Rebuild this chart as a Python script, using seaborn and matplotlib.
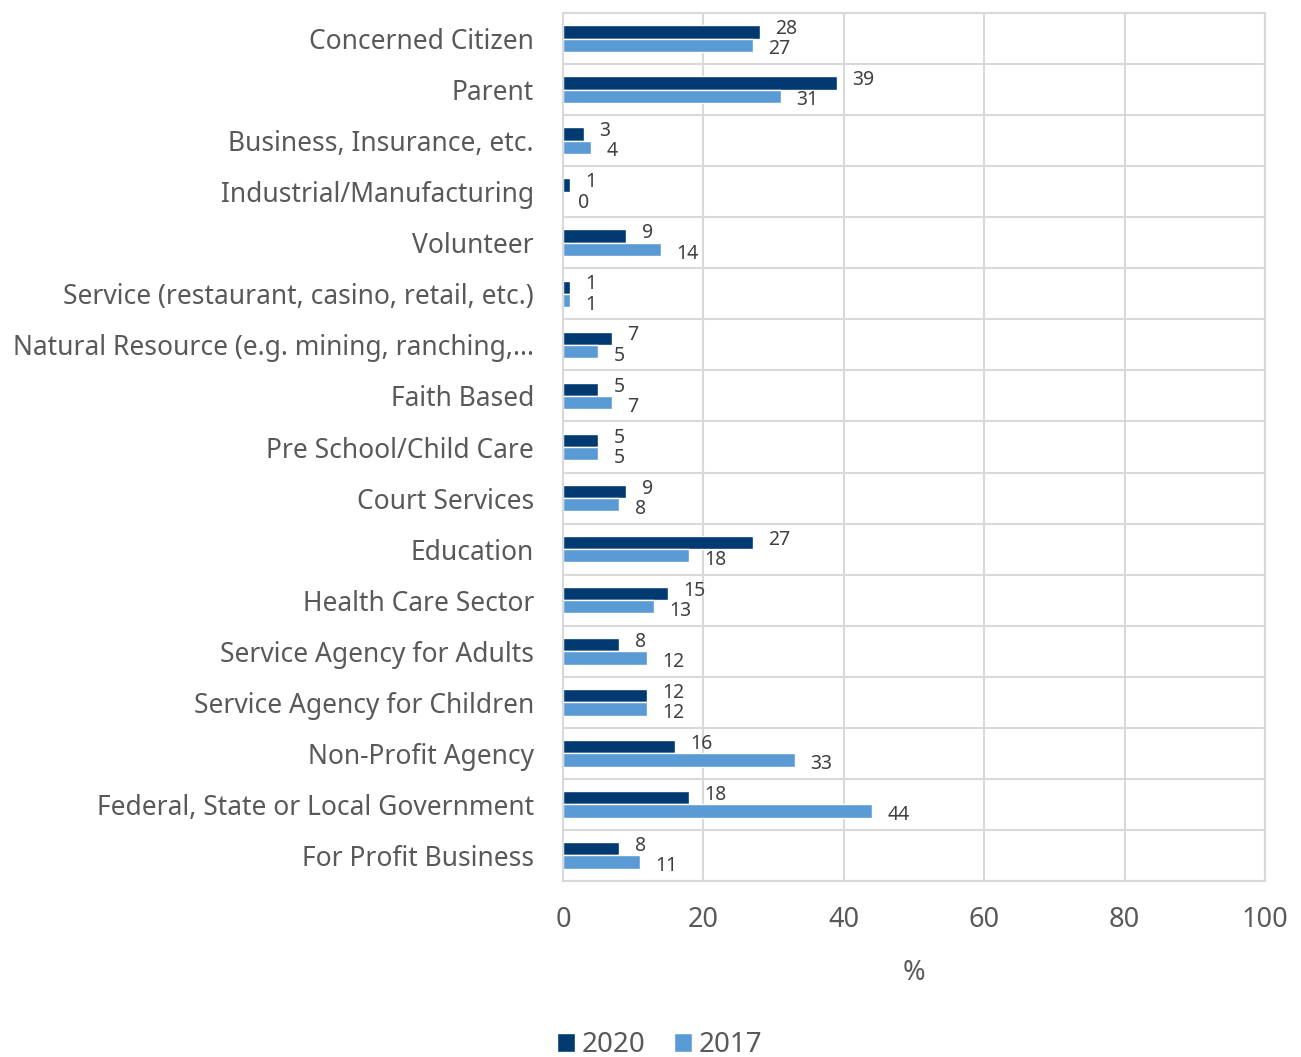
import pandas as pd
import matplotlib
matplotlib.use('Agg')
import matplotlib.pyplot as plt
import seaborn as sns

categories = [
    'Concerned Citizen', 'Parent', 'Business, Insurance, etc.',
    'Industrial/Manufacturing', 'Volunteer',
    'Service (restaurant, casino, retail, etc.)',
    'Natural Resource (e.g. mining, ranching,...',
    'Faith Based', 'Pre School/Child Care', 'Court Services', 'Education',
    'Health Care Sector', 'Service Agency for Adults',
    'Service Agency for Children', 'Non-Profit Agency',
    'Federal, State or Local Government', 'For Profit Business',
]
values_2020 = [28, 39, 3, 1, 9, 1, 7, 5, 5, 9, 27, 15, 8, 12, 16, 18, 8]
values_2017 = [27, 31, 4, 0, 14, 1, 5, 7, 5, 8, 18, 13, 12, 12, 33, 44, 11]
years = ['2020', '2017']
x_ticks = [0, 20, 40, 60, 80, 100]

df = pd.DataFrame({
    'Category': categories * 2,
    'Year': [years[0]] * len(categories) + [years[1]] * len(categories),
    'Value': values_2020 + values_2017,
})

sns.set_style('white')
plt.rcParams['font.family'] = ['Noto Sans', 'DejaVu Sans']
text_col = '#595959'
grid_col = '#d9d9d9'
palette = {'2020': '#003a70', '2017': '#5b9bd5'}

fig = plt.figure(figsize=(13.01, 10.57), dpi=100)
ax = fig.add_axes([0.4328, 0.1665, 0.5395, 0.8212])

sns.barplot(data=df, y='Category', x='Value', hue='Year', hue_order=years,
            order=categories, palette=palette, width=0.52, orient='h',
            saturation=1, ax=ax, legend=True)

ax.set_xlim(0, 100)
ax.set_ylim(len(categories) - 0.5, -0.5)
ax.set_xticks(x_ticks)
ax.set_xticklabels([str(t) for t in x_ticks])
ax.set_yticks(range(len(categories)))
ax.set_yticks([i + 0.5 for i in range(-1, len(categories))], minor=True)
ax.grid(True, axis='x', which='major', color=grid_col, linewidth=1.5)
ax.grid(True, axis='y', which='minor', color=grid_col, linewidth=1.5)
ax.grid(False, axis='y', which='major')
ax.set_axisbelow(True)
for s in ax.spines.values():
    s.set_visible(True)
    s.set_color(grid_col)
    s.set_linewidth(1.5)

ax.tick_params(axis='y', labelsize=19)
ax.tick_params(axis='x', labelsize=19.5, pad=18)
ax.tick_params(axis='both', which='both', length=0, colors=text_col)
ax.tick_params(axis='y', pad=21)
ax.set_xlabel('%', fontsize=19.5, color=text_col, labelpad=18)
ax.set_ylabel('')

# data labels next to each bar (2020 nudged up, 2017 nudged down)
for container, vals, dy in zip(ax.containers, [values_2020, values_2017], [2, -3]):
    for bar, v in zip(container, vals):
        yc = bar.get_y() + bar.get_height() / 2
        ax.annotate(str(v), (bar.get_width(), yc), xytext=(11, dy),
                    textcoords='offset points', ha='left', va='center',
                    fontsize=14, color='#404040')

handles, labels = ax.get_legend_handles_labels()
ax.legend_.remove()
fig.legend(handles, labels, loc='lower center', bbox_to_anchor=(0.507, -0.026),
           ncol=2, frameon=False, fontsize=20, labelcolor=text_col,
           handlelength=0.65, handleheight=0.65, handletextpad=0.25,
           columnspacing=1.0)

fig.savefig('out.png', dpi=100)
